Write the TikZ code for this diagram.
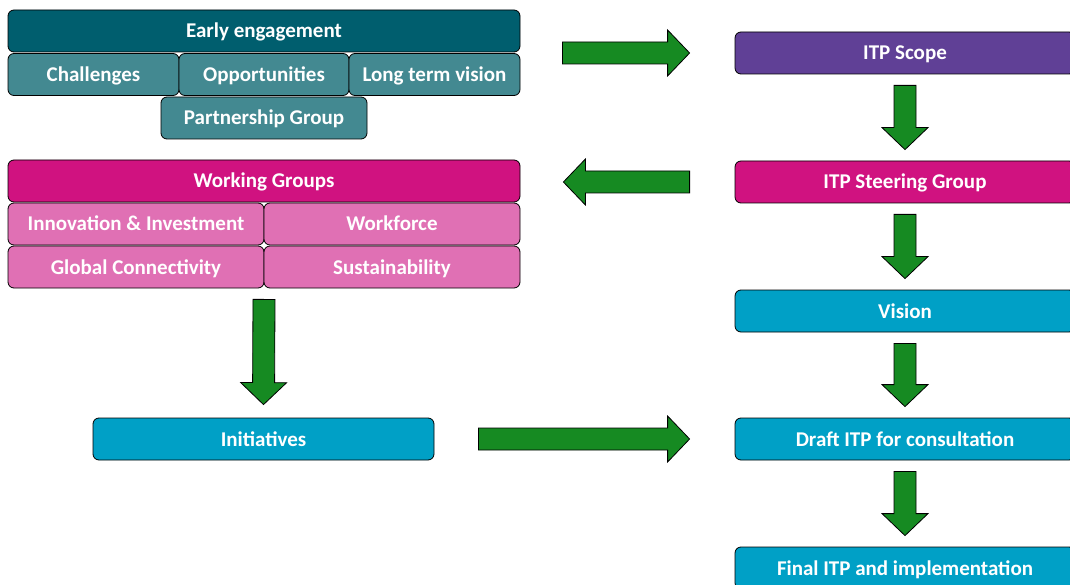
\documentclass[tikz,border=0pt]{standalone}
\usepackage{fontspec}
\setmainfont{Carlito}
\usepackage{tikz}
\usetikzlibrary{calc}
\definecolor{eedark}{RGB}{0,94,110}
\definecolor{eelight}{RGB}{67,137,145}
\definecolor{wgdark}{RGB}{208,18,128}
\definecolor{wglight}{RGB}{224,112,180}
\definecolor{scopepurple}{RGB}{96,64,150}
\definecolor{stepcyan}{RGB}{0,160,198}
\definecolor{arrowgreen}{RGB}{22,138,34}
\tikzstyle{box} = [rectangle, rounded corners=6pt, draw=black, line width=0.8pt, text=white, text centered, inner sep=0pt, minimum height=42pt, text height=15pt, text depth=1pt, font=\fontsize{21}{24}\selectfont\bfseries]
\tikzstyle{headbox} = [box, minimum width=512pt]
\tikzstyle{stepbox} = [box, fill=stepcyan, minimum width=340pt]
\tikzstyle{bigarrow} = [fill=arrowgreen, draw=black, line width=0.8pt, line join=miter]
\newcommand{\bigarrow}[2]{%
  \coordinate (h) at ($(#2)!22pt!(#1)$);
  \draw [bigarrow] ($(#1)!11pt!90:(#2)$) -- ($(h)!11pt!90:(#2)$) -- ($(h)!23pt!90:(#2)$) -- (#2)
    -- ($(h)!23pt!-90:(#2)$) -- ($(h)!11pt!-90:(#2)$) -- ($(#1)!11pt!-90:(#2)$) -- cycle;}

\begin{document}
\begin{tikzpicture}[x=1pt, y=1pt]
\useasboundingbox (0,0) rectangle (1070,-585);
% left column
\node (ee) [headbox, fill=eedark] at (264,-31) {Early engagement};
\node (chal) [box, fill=eelight, minimum width=171pt] at (93.5,-74.5) {Challenges};
\node (opp) [box, fill=eelight, minimum width=170pt] at (264,-74.5) {Opportunities};
\node (ltv) [box, fill=eelight, minimum width=171pt] at (434.5,-74.5) {Long term vision};
\node (pg) [box, fill=eelight, minimum width=206pt] at (264,-118) {Partnership Group};
\node (wg) [headbox, fill=wgdark] at (264,-181) {Working Groups};
\node (inv) [box, fill=wglight, minimum width=256pt] at (136,-224) {Innovation \& Investment};
\node (wf) [box, fill=wglight, minimum width=256pt] at (392,-224) {Workforce};
\node (gc) [box, fill=wglight, minimum width=256pt] at (136,-267) {Global Connectivity};
\node (sus) [box, fill=wglight, minimum width=256pt] at (392,-267) {Sustainability};
\node (init) [stepbox, minimum width=341pt] at (263.5,-439) {Initiatives};
% right column
\node (scope) [stepbox, fill=scopepurple] at (905,-53) {ITP Scope};
\node (steer) [stepbox, fill=wgdark] at (905,-182) {ITP Steering Group};
\node (vision) [stepbox] at (905,-311) {Vision};
\node (draft) [stepbox] at (905,-439) {Draft ITP for consultation};
\node (final) [stepbox] at (905,-568) {Final ITP and implementation};
% arrows
\coordinate (a1s) at ($(ee.east |- scope.west)+(42,0)$);
\coordinate (a1e) at ($(scope.west)+(-45,0)$);
\bigarrow{a1s}{a1e}
\coordinate (a2s) at ($(steer.west)+(-45,0)$);
\coordinate (a2e) at ($(wg.east |- steer.west)+(43,0)$);
\bigarrow{a2s}{a2e}
\coordinate (a3s) at ($(init.east)+(44,0)$);
\coordinate (a3e) at ($(draft.west)+(-45,0)$);
\bigarrow{a3s}{a3e}
\coordinate (a4s) at ($(gc.south -| wg.south)+(0,-11)$);
\coordinate (a4e) at ($(init.north)+(0,13)$);
\bigarrow{a4s}{a4e}
\foreach \a/\b in {scope/steer, steer/vision, vision/draft, draft/final} {
  \coordinate (s) at ($(\a.south)+(0,-11)$);
  \coordinate (e) at ($(\b.north)+(0,11)$);
  \bigarrow{s}{e}
}
\end{tikzpicture}
\end{document}
